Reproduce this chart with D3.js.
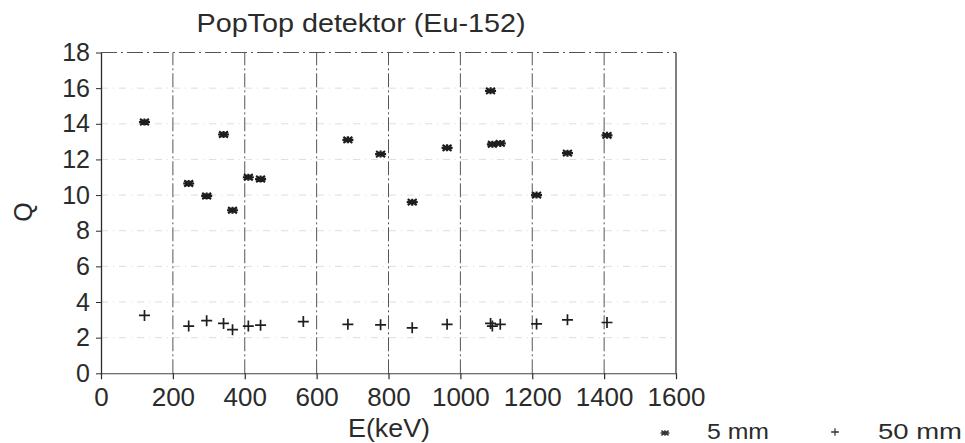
<!DOCTYPE html>
<html>
<head>
<meta charset="utf-8">
<script src="https://cdn.jsdelivr.net/npm/d3@7"></script>
<style>
  body { margin: 0; background: #fff; }
  svg { display: block; font-family: "Liberation Sans", Arial, Helvetica, sans-serif; }
</style>
</head>
<body>
<svg id="chart" width="965" height="443"></svg>
<script>
// ---- data ----
const title = "PopTop detektor (Eu-152)";
const xLabel = "E(keV)";
const yLabel = "Q";
const xTicks = [0, 200, 400, 600, 800, 1000, 1200, 1400, 1600];
const yTicks = [0, 2, 4, 6, 8, 10, 12, 14, 16, 18];
const seriesNames = ["5 mm", "50 mm"];

const energy5mm = [121, 244, 294, 341, 366, 410, 444, 687, 778, 866, 963, 1084, 1089, 1111, 1212, 1298, 1408];
const q5mm      = [14.1, 10.65, 9.95, 13.4, 9.15, 11.0, 10.9, 13.1, 12.3, 9.6, 12.65, 15.85, 12.85, 12.9, 10.0, 12.35, 13.35];

const energy50mm = [121, 244, 294, 341, 366, 410, 444, 563, 687, 778, 866, 963, 1084, 1089, 1111, 1212, 1298, 1408];
const q50mm      = [3.25, 2.65, 2.95, 2.8, 2.45, 2.65, 2.7, 2.9, 2.75, 2.72, 2.55, 2.75, 2.8, 2.65, 2.75, 2.77, 3.0, 2.85];

// ---- layout ----
const svg = d3.select("#chart");
const x = d3.scaleLinear().domain([0, 1600]).range([101, 676]);
const y = d3.scaleLinear().domain([0, 18]).range([373.3, 52.5]);
const ink = "#2b2b2b";
const fmt = d3.format("d");

// faint horizontal grid
svg.append("g").selectAll("line").data(yTicks.filter(d => d > 0 && d < 18)).join("line")
  .attr("x1", x(0)).attr("x2", x(1600))
  .attr("y1", d => y(d)).attr("y2", d => y(d))
  .attr("stroke", "#d4d4d4").attr("stroke-width", 0.8)
  .attr("stroke-dasharray", "7,5,1,5");

// vertical grid (dash-dot, darker)
svg.append("g").selectAll("line").data(xTicks.filter(d => d > 0 && d < 1600)).join("line")
  .attr("x1", d => x(d)).attr("x2", d => x(d))
  .attr("y1", y(0)).attr("y2", y(18))
  .attr("stroke", "#555").attr("stroke-width", 1)
  .attr("stroke-dasharray", "14,3,2,3");

// top border (dashed) and right border (solid)
svg.append("line").attr("x1", x(0)).attr("x2", x(1600)).attr("y1", y(18)).attr("y2", y(18))
  .attr("stroke", "#555").attr("stroke-width", 1).attr("stroke-dasharray", "16,4,2,4");
svg.append("line").attr("x1", x(1600)).attr("x2", x(1600)).attr("y1", y(18)).attr("y2", y(0))
  .attr("stroke", ink).attr("stroke-width", 1.2);

// axes
const xAxis = d3.axisBottom(x).tickValues(xTicks).tickFormat(fmt).tickSizeInner(6).tickSizeOuter(0).tickPadding(8);
const gx = svg.append("g").attr("transform", `translate(0,${y(0)})`).call(xAxis);
gx.select(".domain").attr("stroke", "#444").attr("stroke-width", 1.1);
gx.selectAll(".tick line").attr("stroke", ink).attr("stroke-width", 1.2);
gx.selectAll(".tick text").attr("font-size", 26).attr("fill", ink)
  .attr("font-family", "Liberation Sans, Arial, sans-serif");

const yAxis = d3.axisLeft(y).tickValues(yTicks).tickFormat(fmt).tickSizeInner(5).tickSizeOuter(0).tickPadding(6);
const gy = svg.append("g").attr("transform", `translate(${x(0)},0)`).call(yAxis);
gy.select(".domain").attr("stroke", ink).attr("stroke-width", 1.3);
gy.selectAll(".tick line").attr("stroke", ink).attr("stroke-width", 1);
gy.selectAll(".tick text").attr("font-size", 25).attr("fill", ink)
  .attr("font-family", "Liberation Sans, Arial, sans-serif");

// title
svg.append("text").attr("x", 361).attr("y", 32).attr("text-anchor", "middle")
  .attr("font-size", 26).attr("fill", ink)
  .attr("textLength", 329).attr("lengthAdjust", "spacingAndGlyphs")
  .text(title);

// axis labels
svg.append("text").attr("x", 389).attr("y", 437).attr("text-anchor", "middle")
  .attr("font-size", 25).attr("fill", ink)
  .attr("textLength", 82).attr("lengthAdjust", "spacingAndGlyphs")
  .text(xLabel);
svg.append("text").attr("transform", "translate(32,212) rotate(-90)")
  .attr("text-anchor", "middle").attr("font-size", 25).attr("fill", ink)
  .text(yLabel);

// markers
const starPath = "M-5.5,0H5.5M-4.5,-3L4.5,3M-4.5,3L4.5,-3M0,-3.5V3.5";
const plusPath = "M-5.5,0H5.5M0,-5.5V5.5";

const d5 = energy5mm.map((e, i) => ({ e, q: q5mm[i] }));
const d50 = energy50mm.map((e, i) => ({ e, q: q50mm[i] }));

svg.append("g").selectAll("path").data(d5).join("path")
  .attr("transform", d => `translate(${x(d.e)},${y(d.q)})`)
  .attr("d", starPath).attr("fill", "none").attr("stroke", "#1e1e1e").attr("stroke-width", 2.2);

svg.append("g").selectAll("path").data(d50).join("path")
  .attr("transform", d => `translate(${x(d.e)},${y(d.q)})`)
  .attr("d", plusPath).attr("fill", "none").attr("stroke", "#1e1e1e").attr("stroke-width", 1.7);

// legend
const lg = svg.append("g");
lg.append("path").attr("transform", "translate(665,433) scale(0.8)").attr("d", starPath)
  .attr("fill", "none").attr("stroke", "#333").attr("stroke-width", 1.8);
lg.append("text").attr("x", 707).attr("y", 439).attr("font-size", 22).attr("fill", ink)
  .attr("textLength", 62).attr("lengthAdjust", "spacingAndGlyphs").text(seriesNames[0]);
lg.append("path").attr("transform", "translate(835,432) scale(0.7)").attr("d", plusPath)
  .attr("fill", "none").attr("stroke", "#333").attr("stroke-width", 1.8);
lg.append("text").attr("x", 878).attr("y", 439).attr("font-size", 22).attr("fill", ink)
  .attr("textLength", 84).attr("lengthAdjust", "spacingAndGlyphs").text(seriesNames[1]);
</script>
</body>
</html>
